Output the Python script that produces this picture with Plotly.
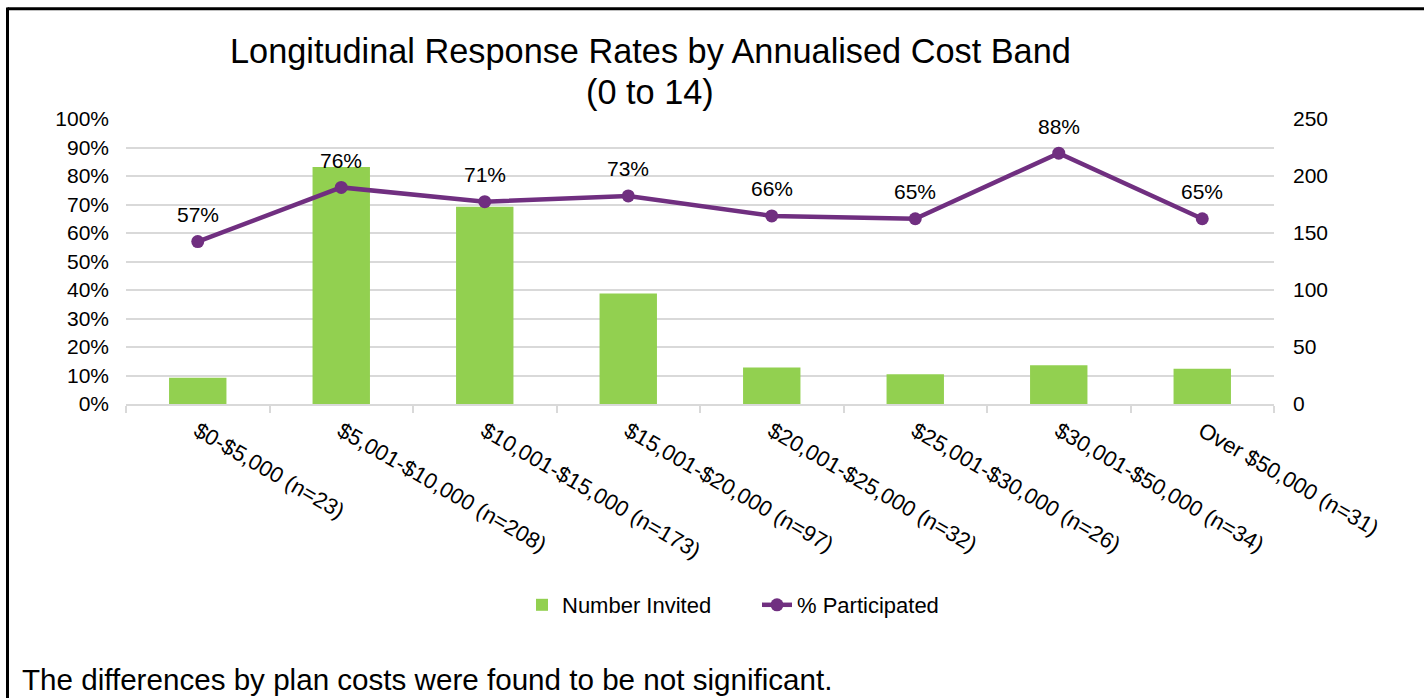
import plotly.graph_objects as go

categories = ["$0-$5,000 (n=23)", "$5,001-$10,000 (n=208)", "$10,001-$15,000 (n=173)",
              "$15,001-$20,000 (n=97)", "$20,001-$25,000 (n=32)", "$25,001-$30,000 (n=26)",
              "$30,001-$50,000 (n=34)", "Over $50,000 (n=31)"]
number_invited = [23, 208, 173, 97, 32, 26, 34, 31]
pct_participated = [0.57, 0.76, 0.71, 0.73, 0.66, 0.65, 0.88, 0.65]
pct_labels = ["57%", "76%", "71%", "73%", "66%", "65%", "88%", "65%"]

title_line1 = "Longitudinal Response Rates by Annualised Cost Band"
title_line2 = "(0 to 14)"
footnote = "The differences by plan costs were found to be not significant."

W, H = 1424, 698
L, R, T, B = 126, 150, 119, 294
pw, ph = W - L - R, H - T - B

def px_x(p):
    return (p - L) / pw

def px_y(p):
    return (H - B - p) / ph

FONT = "Liberation Sans, Arial, sans-serif"
GRID = "#d9d9d9"
GREEN = "#92d050"
PURPLE = "#702f80"

fig = go.Figure()
fig.add_trace(go.Bar(
    x=categories, y=number_invited, name="Number Invited",
    marker=dict(color=GREEN, line=dict(width=0)), width=0.4,
    xaxis="x", yaxis="y",
))
fig.add_trace(go.Scatter(
    x=categories, y=pct_participated, name="% Participated",
    mode="lines+markers",
    line=dict(color=PURPLE, width=4.5), marker=dict(color=PURPLE, size=13),
    xaxis="x", yaxis="y2", cliponaxis=False,
))

right_vals = [0, 25, 50, 75, 100, 125, 150, 175, 200, 225, 250]
right_text = [str(v) if v % 50 == 0 else "" for v in right_vals]

label_annotations = [
    dict(x=c, y=v, xref="x", yref="y2", text=t, yshift=27, showarrow=False,
         xanchor="center", yanchor="middle", font=dict(size=21))
    for c, v, t in zip(categories, pct_participated, pct_labels)
]

fig.update_layout(
    width=W, height=H,
    margin=dict(l=L, r=R, t=T, b=B, pad=0),
    paper_bgcolor="white", plot_bgcolor="white",
    font=dict(family=FONT, size=21, color="#000000"),
    showlegend=True,
    legend=dict(orientation="h", x=px_x(522), y=px_y(605), xanchor="left", yanchor="middle",
                font=dict(size=22), bgcolor="rgba(0,0,0,0)", traceorder="normal",
                entrywidth=190, entrywidthmode="pixels"),
    bargap=0.6,
    xaxis=dict(type="category", showgrid=False, showline=True, linecolor=GRID, linewidth=1.5,
               ticks="outside", tickson="boundaries", ticklen=7, tickcolor=GRID, tickwidth=1.5,
               tickangle=30, tickfont=dict(size=22), zeroline=False, ticklabelstandoff=4),
    yaxis=dict(side="right", range=[0, 250], tickmode="array", tickvals=right_vals, ticktext=right_text,
               showgrid=True, gridcolor=GRID, gridwidth=1.5, zeroline=False, showline=False,
               ticks="", tickfont=dict(size=21), ticklabelstandoff=18),
    yaxis2=dict(side="left", overlaying="y", range=[0, 1], dtick=0.1, tickformat=".0%",
                showgrid=False, zeroline=False, showline=False, ticks="",
                tickfont=dict(size=21), ticklabelstandoff=16),
    annotations=label_annotations + [
        dict(text=title_line1, x=px_x(650), y=px_y(51), xref="paper", yref="paper",
             xanchor="center", yanchor="middle", showarrow=False, font=dict(size=34.3)),
        dict(text=title_line2, x=px_x(650), y=px_y(92), xref="paper", yref="paper",
             xanchor="center", yanchor="middle", showarrow=False, font=dict(size=34.3)),
        dict(text=footnote, x=px_x(20), y=px_y(679), xref="paper", yref="paper",
             xanchor="left", yanchor="middle", showarrow=False, font=dict(size=29.6)),
    ],
    shapes=[
        dict(type="line", xref="paper", yref="paper", x0=px_x(7.5), x1=px_x(1430),
             y0=px_y(8.7), y1=px_y(8.7), line=dict(color="black", width=3)),
        dict(type="line", xref="paper", yref="paper", x0=px_x(7.5), x1=px_x(7.5),
             y0=px_y(7.5), y1=px_y(705), line=dict(color="black", width=3)),
    ],
)

fig.write_html("out.html")
